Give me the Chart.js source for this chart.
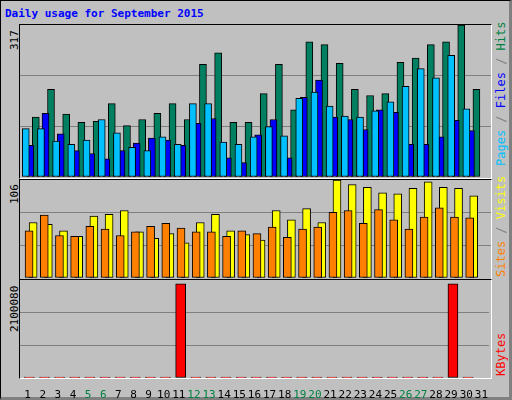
<!DOCTYPE html>
<html><head><meta charset="utf-8">
<script src="https://cdn.jsdelivr.net/npm/chart.js@4"></script>
<style>
body{margin:0;width:512px;height:400px;background:#c0c0c0;position:relative;overflow:hidden;font-family:"DejaVu Sans Mono",monospace}
#frame{position:absolute;left:0;top:0;width:508px;height:396px;border:1px solid #000;border-right:3px solid #808080;border-bottom:3px solid #808080;box-sizing:content-box}
.panel{position:absolute;border-top:1px solid #000;border-left:1px solid #000;border-right:1px solid #fff;border-bottom:1px solid #fff}
canvas{position:absolute}
.rot{position:absolute;transform:rotate(-90deg);transform-origin:left top;white-space:nowrap;font-size:12px}
#title{position:absolute;left:5px;top:7px;color:#0000ff;font-weight:bold;font-size:11px}
</style></head><body>
<div id="frame"></div>
<div id="title">Daily usage for September 2015</div>
<div class="panel" style="left:19px;top:24px;width:471px;height:153px"></div>
<div class="panel" style="left:19px;top:179px;width:471px;height:99px"></div>
<div class="panel" style="left:19px;top:279px;width:471px;height:98px"></div>
<div class="rot" style="left:8px;top:50px;font-size:11px">317</div>
<div class="rot" style="left:8px;top:204px;font-size:11px">106</div>
<div class="rot" style="left:8px;top:332px;font-size:11px">2100080</div>
<div class="rot" style="left:494px;top:166px"><span style="color:#00c0ff">Pages</span><span style="color:#808080"> / </span><span style="color:#0000ff">Files</span><span style="color:#808080"> / </span><span style="color:#008040">Hits</span></div>
<div class="rot" style="left:494px;top:277px"><span style="color:#ff8000">Sites</span><span style="color:#808080"> / </span><span style="color:#ffff00">Visits</span></div>
<div class="rot" style="left:494px;top:376px"><span style="color:#ff0000">KBytes</span></div>
<canvas id="c1" width="471" height="152" style="left:20px;top:25px"></canvas>
<canvas id="c2" width="471" height="98" style="left:20px;top:180px"></canvas>
<canvas id="c3" width="471" height="120" style="left:20px;top:280px"></canvas>
<script>
const days=[1,2,3,4,5,6,7,8,9,10,11,12,13,14,15,16,17,18,19,20,21,22,23,24,25,26,27,28,29,30,31];
const weekend=[5,6,12,13,19,20,26,27];
const hits=[125,183,131,114,116,153,107,120,133,153,120,235,259,114,114,174,235,140,282,276,237,183,170,174,239,248,276,282,317,183,0];
const files=[66,133,90,55,49,38,55,71,81,77,66,112,122,40,30,88,120,40,166,202,125,120,99,140,135,68,68,84,118,97,0];
const pages=[101,101,75,68,77,120,92,62,55,84,68,153,153,73,68,84,105,86,164,177,148,127,125,138,157,189,226,207,254,142,0];
const visits=[60,58,51,45,67,69,73,50,43,48,38,60,69,51,47,41,73,63,75,60,106,101,98,92,91,97,104,98,97,89,0];
const sites=[51,68,46,45,56,53,46,50,56,59,54,50,50,45,51,48,55,44,53,55,71,73,59,74,63,53,66,76,66,65,0];
const kbytes=[20000,20000,20000,20000,20000,20000,20000,20000,20000,20000,2100080,20000,20000,20000,20000,20000,20000,20000,20000,20000,20000,20000,20000,20000,20000,20000,20000,20000,2100080,20000,0];
const yMax={top:317,mid:106,bot:2100080};

Chart.defaults.animation=false;
Chart.defaults.font.family='"DejaVu Sans Mono", monospace';
function pts(arr,dx){return arr.map((v,i)=>({x:days[i]+dx,y:v}));}
function ds(arr,dx,color,w,order){return{data:pts(arr,dx),backgroundColor:color,borderColor:'#000',borderWidth:1,barThickness:w,order:order,borderSkipped:false};}
function thirds(max){return function(s){s.ticks=[0,max/3,2*max/3,max].map(v=>({value:v}));};}
function opts(max,showX){
  return {responsive:false,maintainAspectRatio:false,layout:{padding:0},
    plugins:{legend:{display:false},tooltip:{enabled:false}},
    scales:{
      x:{type:'linear',min:0.5,max:31.5,offset:false,display:showX,afterBuildTicks:s=>{s.ticks=days.map(v=>({value:v}));},
        afterFit:s=>{s.height=showX?22:0;},
        grid:{display:false},border:{display:false},
        ticks:{autoSkip:false,maxRotation:0,padding:3,font:{size:11},color:c=>weekend.includes(c.tick.value)?'#008040':'#000'}},
      y:{min:0,max:max,afterBuildTicks:thirds(max),afterFit:s=>{s.width=0;},
        grid:{color:c=>(c.tick.value>0&&c.tick.value<max-1)?'#808080':'rgba(0,0,0,0)',drawTicks:false},
        border:{display:false},ticks:{display:false}}
    }};
}
new Chart(document.getElementById('c1'),{type:'bar',data:{datasets:[
  ds(hits,0.08,'#008060',7,2),ds(files,0.18,'#0000ff',7,1),ds(pages,0.34,'#00c0ff',7,0)]},options:opts(yMax.top,false)});
new Chart(document.getElementById('c2'),{type:'bar',data:{datasets:[
  ds(visits,0.1,'#ffff00',8,1),ds(sites,0.36,'#ff8000',8,0)]},options:opts(yMax.mid,false)});
new Chart(document.getElementById('c3'),{type:'bar',data:{datasets:[
  ds(kbytes,0.12,'#ff0000',10,0)]},options:opts(yMax.bot*1.04,true)});
</script>
</body></html>
